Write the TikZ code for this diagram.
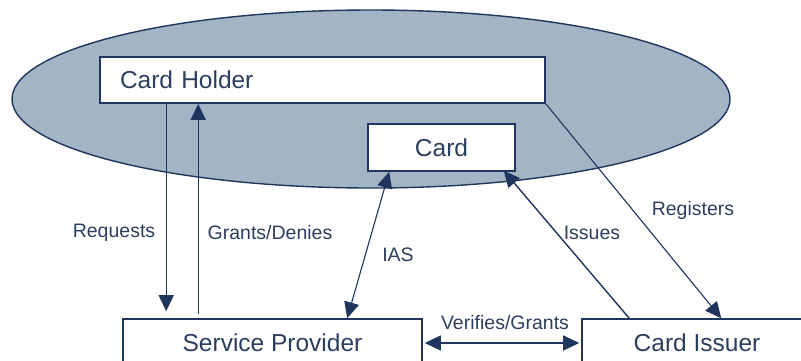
\documentclass[tikz,border=0pt]{standalone}
\usepackage{fontspec}
\setmainfont{Liberation Sans}
\usetikzlibrary{arrows.meta}
\definecolor{navy}{HTML}{1F355E}
\definecolor{txt}{HTML}{2C3E5E}
\definecolor{ellfill}{HTML}{A3B5C5}
\tikzset{
  box/.style={draw=navy, line width=1.6pt, fill=white, inner sep=0pt, text=txt,
    font=\fontsize{24.5}{28}\selectfont},
  lbl/.style={text=txt, inner sep=0pt, font=\fontsize{19.5}{23}\selectfont},
  tip/.tip={Triangle[length=16pt,width=15pt]},
  arr/.style={draw=navy, line width=1.4pt, -tip},
  darr/.style={draw=navy, line width=1.4pt, tip-tip},
}
\begin{document}
\begin{tikzpicture}[x=1pt,y=-1pt]
\useasboundingbox (0,0) rectangle (801,360);
\clip (0,0) rectangle (801,360);
\draw[draw=navy, line width=1.4pt, fill=ellfill] (371,99) ellipse [x radius=359, y radius=89];
\node[box, minimum width=445pt, minimum height=46pt, text width=405pt, align=left] (ch) at (322.5,80) {Card Holder};
\node[box, minimum width=147pt, minimum height=47pt] (card) at (441.5,147.5) {Card};
\node[box, minimum width=299pt, minimum height=48pt] (sp) at (272.5,343) {Service Provider};
\node[box, minimum width=230pt, minimum height=48pt] (ci) at (697,343) {Card Issuer};
\draw[arr] ([xshift=67pt]ch.south west) -- ([xshift=44pt,yshift=7pt]sp.north west);
\draw[arr] ([xshift=76pt,yshift=4pt]sp.north west) -- ([xshift=99pt]ch.south west);
\draw[darr, line width=1.1pt] ([xshift=22pt]card.south west) -- ([xshift=225pt]sp.north west);
\draw[arr] ([xshift=48pt]ci.north west) -- ([xshift=-12pt,yshift=1pt]card.south east);
\draw[arr, line width=1.1pt] (ch.south east) -- ([xshift=140pt]ci.north west);
\draw[darr] ([xshift=2pt]sp.east) -- ([xshift=-2pt]ci.west);
\node[lbl] (lreq) at (114,233) {Requests};
\node[lbl] (lgra) at (270,233) {Grants/Denies};
\node[lbl] (lias) at (398,255) {IAS};
\node[lbl] (liss) at (592,233) {Issues};
\node[lbl] (lreg) at (693,210) {Registers};
\node[lbl] (lver) at (505,323) {Verifies/Grants};
\end{tikzpicture}
\end{document}
